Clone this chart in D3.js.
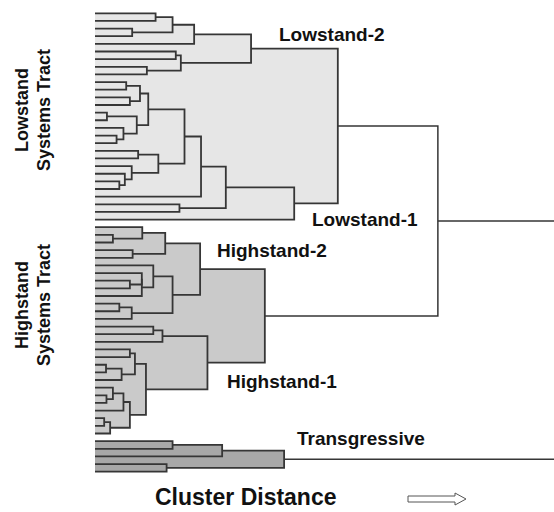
<!DOCTYPE html>
<html>
<head>
<meta charset="utf-8">
<script src="https://cdn.jsdelivr.net/npm/d3@7/dist/d3.min.js"></script>
<style>
  html, body { margin: 0; padding: 0; background: #fff; }
  svg { display: block; }
  text { font-family: "Liberation Sans", Arial, sans-serif; font-weight: bold; fill: #111; }
</style>
</head>
<body>
<svg id="chart" width="554" height="512"></svg>
<script>
// Dendrogram nodes: [mergeDistance, leftChild, rightChild]; plain numbers are sample (leaf) ids.
const lowstandUpper = [34.0,
  [21.6, [16.9, [13.2, 0, 1], [8.1, 2, 3]], 4],
  [18.7, [17.6, 5, 6], [11.3, 7, 8]]];
const lowstandLower = [43.4,
  [28.5,
    [23.1,
      [19.5,
        [11.6, [9.8, [6.8, 9, 10], [7.6, 11, 12]],
               [9.1, [2.6, 13, 14], [6.2, 15, [4.7, 16, 17]]]],
        [13.8, [9.4, 18, 19], [8.0, 20, [6.5, 21, [5.3, 22, 23]]]]],
      24],
    [18.4, 25, 26]],
  27];
const highstandUpper = [22.9,
  [15.3, [10.3, 28, [3.9, 29, 30]], [8.2, 31, 32]],
  [16.9, [12.7, 33, [10.2, [10.2, 34, [7.6, 35, 36]], 37]],
         [8.0, [5.3, 38, 39], 40]]];
const highstandLower = [24.5,
  [14.7, [12.7, 41, 42], 43],
  [11.1, [8.7, [7.6, 44, 45], [5.8, [2.4, 46, 47], 48]],
         [7.6, [6.2, [3.9, 49, [2.5, 50, 51]], 52], [3.3, [2.0, 53, 54], 55]]]];
const transgressiveTree = [41.2, [27.7, [16.9, 56, 57], 58], [15.6, 59, 60]];

const lowstandMerge = 52.9;
const highstandMerge = 37.0;
const tractMerge = 74.7;
const rootMerge = 110;

const clusterLabels = ["Lowstand-2", "Lowstand-1", "Highstand-2", "Highstand-1", "Transgressive"];
const tractLabels = [["Lowstand", "Systems Tract"], ["Highstand", "Systems Tract"]];
const axisTitle = "Cluster Distance";

const lowstand = [lowstandMerge, lowstandUpper, lowstandLower];
const highstand = [highstandMerge, highstandUpper, highstandLower];
lowstand.group = "lowstand";
highstand.group = "highstand";
transgressiveTree.group = "transgressive";
const treeData = [rootMerge, [tractMerge, lowstand, highstand], transgressiveTree];

const svg = d3.select("#chart");
const fills = { lowstand: "#e6e6e6", highstand: "#cacaca", transgressive: "#a8a8a8" };
const lineColor = "#363636";

const root = d3.hierarchy(treeData, d => Array.isArray(d) ? d.slice(1) : null);
const leaves = root.leaves();

const x = d3.scaleLinear().domain([0, 100]).range([95, 554]);
const y = d3.scaleLinear().domain([0, leaves.length - 1]).range([13.3, 471.7]);

leaves.forEach((leaf, i) => { leaf.py = y(i); leaf.dist = 0; });
root.eachAfter(n => {
  if (n.children) {
    n.dist = n.data[0];
    n.py = (n.children[0].py + n.children[1].py) / 2;
  }
});
root.eachBefore(n => {
  n.group = (Array.isArray(n.data) && n.data.group) || (n.parent ? n.parent.group : null);
});

const internal = root.descendants().filter(n => n.children);

// shaded cluster boxes
svg.append("g").selectAll("rect")
  .data(internal.filter(n => n.group))
  .join("rect")
  .attr("x", x(0))
  .attr("y", n => Math.min(n.children[0].py, n.children[1].py))
  .attr("width", n => x(n.dist) - x(0))
  .attr("height", n => Math.abs(n.children[1].py - n.children[0].py))
  .attr("fill", n => fills[n.group]);

// elbow links
svg.append("g").selectAll("path")
  .data(internal)
  .join("path")
  .attr("d", n => {
    const [a, b] = n.children;
    return `M${x(a.dist)},${a.py}H${x(n.dist)}V${b.py}H${x(b.dist)}`;
  })
  .attr("fill", "none")
  .attr("stroke", lineColor)
  .attr("stroke-width", n => n.group ? 1.8 : 1.5);

// cluster labels
const labelPos = [[279, 41], [312, 226], [217, 257], [227, 388], [297, 445]];
svg.append("g").selectAll("text")
  .data(clusterLabels)
  .join("text")
  .attr("x", (d, i) => labelPos[i][0])
  .attr("y", (d, i) => labelPos[i][1])
  .attr("font-size", 19)
  .text(d => d);

// systems tract labels (rotated)
const tractCenters = [110, 305];
tractLabels.forEach((lines, i) => {
  const t = svg.append("text")
    .attr("transform", `translate(0,${tractCenters[i]}) rotate(-90)`)
    .attr("text-anchor", "middle")
    .attr("font-size", 18);
  lines.forEach((ln, j) => {
    t.append("tspan").attr("x", 0).attr("y", 28 + j * 22).text(ln);
  });
});

// axis title with arrow
svg.append("text")
  .attr("x", 155).attr("y", 505)
  .attr("font-size", 23)
  .text(axisTitle);

svg.append("polygon")
  .attr("points", "408,496 455,496 455,493 466,499 455,505 455,502 408,502")
  .attr("fill", "#fff")
  .attr("stroke", "#555")
  .attr("stroke-width", 1);
</script>
</body>
</html>
